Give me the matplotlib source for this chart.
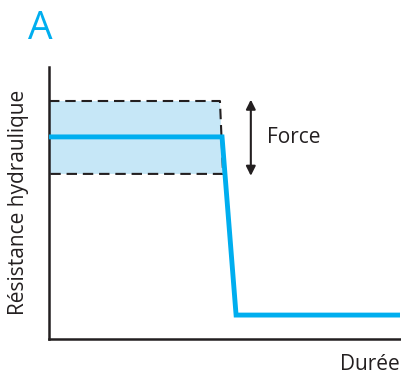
import numpy as np
import matplotlib.pyplot as plt

# schematic values (arbitrary units)
duree = [0, 4.93, 5.33, 10]
resistance = [7.43, 7.43, 0.88, 0.88]

band_x = [0, 4.87, 4.96, 0]
band_y = [8.75, 8.75, 6.07, 6.07]

blue = '#00AEEF'
light_blue = '#C6E7F7'
dark = '#231F20'

plt.rcParams['font.family'] = ['Open Sans', 'DejaVu Sans']

W, H = 401, 374
fig = plt.figure(figsize=(W / 100, H / 100), dpi=100)
ax = fig.add_axes([49 / W, (H - 339) / H, 351 / W, 272 / H])
ax.set_xlim(0, 10)
ax.set_ylim(0, 10)

# band of variation
ax.fill(band_x, band_y, color=light_blue, lw=0, zorder=1)
ax.plot([0, band_x[1], band_x[2], 0], [band_y[0], band_y[1], band_y[2], band_y[3]],
        color=dark, lw=1.5, ls=(0, (5, 2.8)), zorder=2)

# resistance curve
ax.plot(duree, resistance, color=blue, lw=3.5, solid_joinstyle='miter', zorder=3)

# force arrow
ax.annotate('', xy=(5.75, 6.0), xytext=(5.75, 8.8),
            arrowprops=dict(arrowstyle='<|-|>', color=dark, lw=1.5,
                            mutation_scale=14, shrinkA=0, shrinkB=0))
ax.text(6.22, 7.4, 'Force', fontsize=15, color=dark, va='center', ha='left')

for s in ['top', 'right']:
    ax.spines[s].set_visible(False)
for s in ['left', 'bottom']:
    ax.spines[s].set_color(dark)
    ax.spines[s].set_linewidth(1.8)
ax.set_xticks([])
ax.set_yticks([])

fig.text(400 / W, 1 - 364 / H, 'Durée', fontsize=15, color=dark, ha='right', va='center')
fig.text(19 / W, 1 - 202 / H, 'Résistance hydraulique', fontsize=15, color=dark,
         rotation=90, ha='center', va='center')
fig.text(40 / W, 1 - 29 / H, 'A', fontsize=28, color=blue, ha='center', va='center')

fig.savefig('out.png', dpi=100)
